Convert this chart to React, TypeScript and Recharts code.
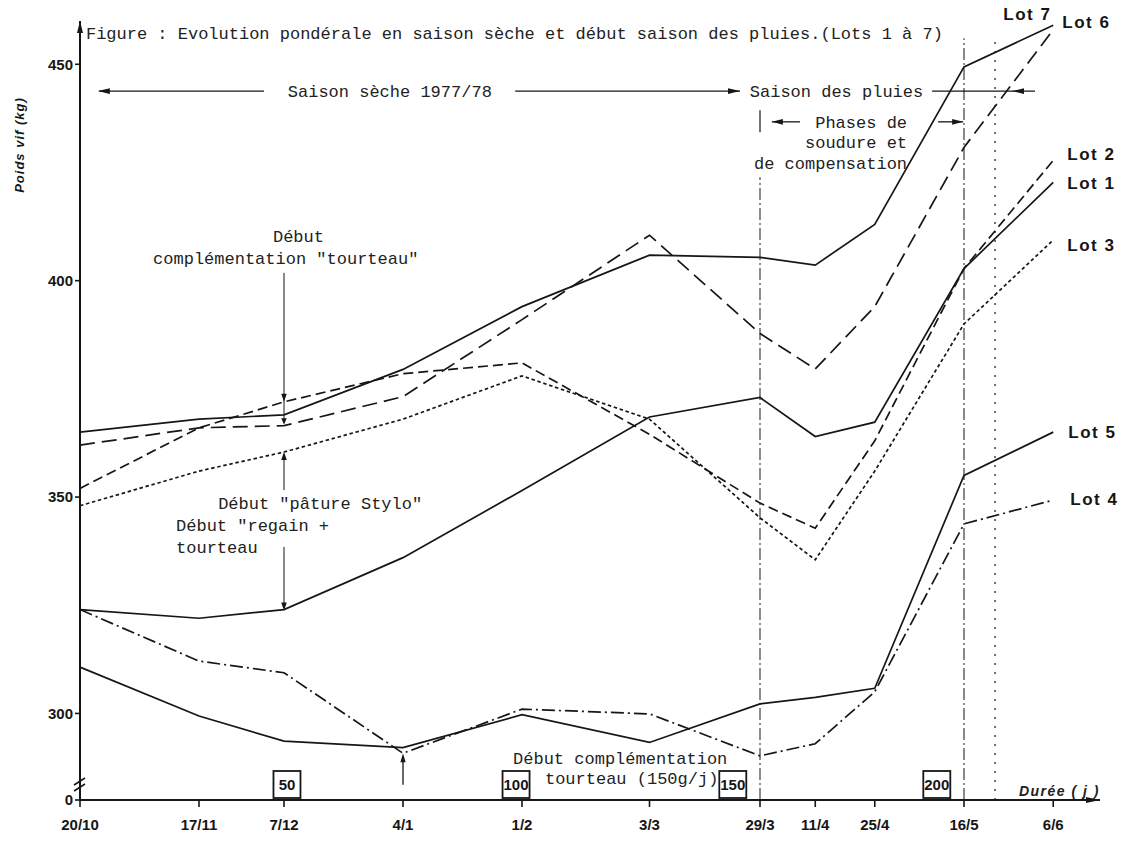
import React from 'react'
import { LineChart, Line, XAxis, YAxis, ReferenceLine, ReferenceDot } from 'recharts'

// dates of weighing, and their day count from 20/10/77
const dates = ['20/10', '17/11', '7/12', '4/1', '1/2', '3/3', '29/3', '11/4', '25/4', '16/5', '6/6']
const days = [0, 28, 48, 76, 104, 134, 160, 173, 187, 208, 229]

// live weight (kg)
const lot1 = [324, 322, 324, 336, 351.5, 368.5, 373, 364, 367.3, 402.8, 422.7]
const lot2 = [352, 366, 372, 378.5, 381, 364.5, 348.6, 342.8, 363, 402.8, 427.8]
const lot3 = [348, 356, 360.4, 368, 378, 368, 345.2, 335.5, 356, 390, 409.4]
const lot4 = [324, 312.1, 309.4, 290.8, 301, 299.9, 290.2, 293, 305, 343.8, 349.3]
const lot5 = [310.7, 299.4, 293.6, 292.1, 299.7, 293.3, 302.2, 303.7, 305.8, 355, 365]
const lot6 = [362, 366, 366.5, 373.2, 391, 410.5, 387.8, 379.6, 394, 430.8, 458]
const lot7 = [365, 368, 369, 379.5, 394, 405.9, 405.4, 403.6, 413, 449.4, 459]

const yTicks = [280, 300, 350, 400, 450]
const yTickLabels = ['0', '300', '350', '400', '450']

// boxed day counts drawn above the time axis
const markerDays = [48.7, 102.6, 153.6, 201.6]
const markerLabels = ['50', '100', '150', '200']

const data = days.map((day, i) => ({
  day,
  lot1: lot1[i],
  lot2: lot2[i],
  lot3: lot3[i],
  lot4: lot4[i],
  lot5: lot5[i],
  lot6: lot6[i],
  lot7: lot7[i],
}))

const INK = '#161616'
const MONO = "'Liberation Mono', 'DejaVu Sans Mono', monospace"
const SANS = "'Liberation Sans Narrow', 'Liberation Sans', Arial, sans-serif"

const series = [
  { key: 'lot7', name: 'Lot 7', values: lot7, dash: undefined, dx: -50, dy: -5 },
  { key: 'lot6', name: 'Lot 6', values: lot6, dash: '15 7', dx: 9, dy: -2 },
  { key: 'lot2', name: 'Lot 2', values: lot2, dash: '10 5', dx: 14, dy: 0 },
  { key: 'lot1', name: 'Lot 1', values: lot1, dash: undefined, dx: 14, dy: 7 },
  { key: 'lot3', name: 'Lot 3', values: lot3, dash: '3.5 2.7', dx: 14, dy: 11 },
  { key: 'lot5', name: 'Lot 5', values: lot5, dash: undefined, dx: 15, dy: 6 },
  { key: 'lot4', name: 'Lot 4', values: lot4, dash: '13 4 2 4', dx: 17, dy: 5 },
]

type Dir = 'up' | 'down' | 'left' | 'right'

const head = (dir: Dir, len = 11, w = 3.3) => (p: any) => {
  const { cx, cy } = p
  let d = ''
  if (dir === 'up') d = `M${cx},${cy} L${cx - w},${cy + len} L${cx + w},${cy + len} Z`
  if (dir === 'down') d = `M${cx},${cy} L${cx - w},${cy - len} L${cx + w},${cy - len} Z`
  if (dir === 'left') d = `M${cx},${cy} L${cx + len},${cy - w} L${cx + len},${cy + w} Z`
  if (dir === 'right') d = `M${cx},${cy} L${cx - len},${cy - w} L${cx - len},${cy + w} Z`
  return <path d={d} fill={INK} />
}

const arrow = (key: string, x: number, y: number, dir: Dir, len?: number, w?: number) => (
  <ReferenceDot key={key} x={x} y={y} r={0} shape={head(dir, len, w)} />
)

const seg = (key: string, x1: number, y1: number, x2: number, y2: number, dash?: string, width = 1.2) => (
  <ReferenceLine
    key={key}
    segment={[{ x: x1, y: y1 }, { x: x2, y: y2 }]}
    stroke={INK}
    strokeWidth={width}
    strokeDasharray={dash}
  />
)

interface NoteOpts {
  anchor?: 'start' | 'middle' | 'end'
  font?: string
  size?: number
  lh?: number
  weight?: string
  italic?: boolean
  spacing?: number
}

const note = (key: string, x: number, y: number, lines: string[], o: NoteOpts = {}) => (
  <ReferenceDot
    key={key}
    x={x}
    y={y}
    r={0}
    shape={(p: any) => (
      <text
        x={p.cx}
        y={p.cy}
        textAnchor={o.anchor ?? 'start'}
        fontFamily={o.font ?? MONO}
        fontSize={o.size ?? 17}
        fontWeight={o.weight ?? 'normal'}
        fontStyle={o.italic ? 'italic' : 'normal'}
        letterSpacing={o.spacing ?? 0}
        fill="#222"
      >
        {lines.map((l, i) => (
          <tspan key={i} x={p.cx} dy={i === 0 ? '0.35em' : o.lh ?? 20.5}>
            {l}
          </tspan>
        ))}
      </text>
    )}
  />
)

const dayBox = (key: string, x: number, label: string) => (
  <ReferenceDot
    key={key}
    x={x}
    y={280}
    r={0}
    shape={(p: any) => (
      <g>
        <rect x={p.cx - 13.5} y={p.cy - 29} width={27} height={27} fill="#fff" stroke={INK} strokeWidth={1.8} />
        <text
          x={p.cx}
          y={p.cy - 15.5}
          dy="0.35em"
          textAnchor="middle"
          fontFamily={SANS}
          fontWeight="bold"
          fontSize={15}
          fill={INK}
        >
          {label}
        </text>
      </g>
    )}
  />
)

const axisBreak = (p: any) => (
  <g stroke={INK} strokeWidth={1.6}>
    <line x1={p.cx - 6} y1={p.cy + 1} x2={p.cx + 5} y2={p.cy - 6} />
    <line x1={p.cx - 6} y1={p.cy + 7} x2={p.cx + 5} y2={p.cy} />
  </g>
)

const lotLabel = (s: (typeof series)[number]) => (
  <ReferenceDot
    key={`lab-${s.key}`}
    x={days[days.length - 1]}
    y={s.values[s.values.length - 1]}
    r={0}
    shape={(p: any) => (
      <text
        x={p.cx + s.dx}
        y={p.cy + s.dy}
        fontFamily={SANS}
        fontWeight="bold"
        fontSize={17}
        letterSpacing={1.5}
        fill={INK}
      >
        {s.name}
      </text>
    )}
  />
)

export default function App() {
  return (
    <div style={{ position: 'absolute', left: 0, top: 0, width: 1125, height: 846, background: '#fff' }}>
      <LineChart width={1125} height={846} data={data} margin={{ top: 21, right: 25, bottom: 6, left: 0 }}>
        <XAxis
          dataKey="day"
          type="number"
          domain={[0, 240]}
          ticks={days}
          interval={0}
          tickFormatter={(v: number) => dates[days.indexOf(v)] ?? ''}
          height={40}
          tickSize={7}
          tickMargin={12}
          axisLine={{ stroke: INK, strokeWidth: 2 }}
          tickLine={{ stroke: INK, strokeWidth: 1.6 }}
          tick={{ fontFamily: SANS, fontWeight: 'bold', fontSize: 15, fill: INK }}
        />
        <YAxis
          type="number"
          domain={[280, 460]}
          ticks={yTicks}
          interval={0}
          tickFormatter={(v: number) => yTickLabels[yTicks.indexOf(v)] ?? ''}
          width={80}
          tickSize={5}
          tickMargin={2}
          axisLine={{ stroke: INK, strokeWidth: 2 }}
          tickLine={{ stroke: INK, strokeWidth: 1.6 }}
          tick={{ fontFamily: SANS, fontWeight: 'bold', fontSize: 15, fill: INK }}
          label={{
            content: ({ viewBox }: any) => (
              <text
                transform={`translate(${viewBox.x + 24},${viewBox.y + 124}) rotate(-90)`}
                textAnchor="middle"
                fontFamily={SANS}
                fontWeight="bold"
                fontStyle="italic"
                fontSize={13}
                letterSpacing={1}
                fill={INK}
              >
                Poids vif (kg)
              </text>
            ),
          }}
        />

        {/* vertical markers: 29/3, 16/5 and the dotted one after it */}
        {seg('v293', 160, 280, 160, 423.9, '12 3 2 3', 1)}
        {seg('v293top', 160, 434.3, 160, 439.4, undefined, 1.2)}
        {seg('v165', 208, 280, 208, 456, '12 3 2 3', 1)}
        {seg('vdot', 215.3, 280, 215.3, 456, '2 7', 1.2)}

        {/* seasons */}
        {note('title', 1.4, 457.2, ['Figure : Evolution pondérale en saison sèche et début saison des pluies.(Lots 1 à 7)'])}
        {note('seche', 72.9, 443.8, ['Saison sèche 1977/78'], { anchor: 'middle' })}
        {note('pluies', 157.6, 443.8, ['Saison des pluies'])}
        {seg('s1', 4.5, 443.8, 43.3, 443.8, undefined, 1.3)}
        {arrow('s1a', 4.2, 443.8, 'left', 12, 2.8)}
        {seg('s2', 102.4, 443.8, 155.3, 443.8, undefined, 1.3)}
        {arrow('s2a', 155.3, 443.8, 'right', 12, 2.8)}
        {seg('s3', 200.5, 443.8, 224.7, 443.8, undefined, 1.3)}
        {arrow('s3a', 219.3, 443.8, 'left', 12, 2.8)}

        {/* phases de soudure */}
        {note('phases', 194.6, 436.7, ['Phases de', 'soudure et', 'de compensation'], { anchor: 'end' })}
        {seg('p1', 162.8, 436.7, 169.4, 436.7, undefined, 1.3)}
        {arrow('p1a', 162.8, 436.7, 'left', 11, 2.8)}
        {seg('p2', 201.9, 436.7, 207.8, 436.7, undefined, 1.3)}
        {arrow('p2a', 207.8, 436.7, 'right', 11, 2.8)}

        {/* début complémentation tourteau (lots 2 and 6) */}
        {note('tourteau1', 45.4, 410.3, ['Début'])}
        {note('tourteau2', 17.2, 405.2, ['complémentation "tourteau"'])}
        {seg('t1', 48, 401.8, 48, 367, undefined, 1)}
        {arrow('t1a', 48, 372, 'down', 8, 2.8)}
        {arrow('t1b', 48, 366.8, 'down', 6, 2.8)}

        {/* pâture Stylo / regain + tourteau */}
        {note('stylo', 32.5, 348.6, ['Début "pâture Stylo"'])}
        {note('regain', 22.6, 343.5, ['Début "regain +', 'tourteau'], { lh: 22 })}
        {seg('r1', 48, 351.6, 48, 360, undefined, 1)}
        {arrow('r1a', 48, 360.4, 'up', 8, 2.8)}
        {seg('r2', 48, 324.5, 48, 338.5, undefined, 1)}
        {arrow('r2a', 48, 323.8, 'down', 8, 2.8)}

        {/* bottom note, lot 4 */}
        {note('bas', 101.9, 289.7, ['Début complémentation'])}
        {note('bas2', 109.4, 285.1, ['tourteau (150g/j)'])}
        {seg('b1', 76, 283.5, 76, 289, undefined, 1.3)}
        {arrow('b1a', 76, 290.8, 'up', 9, 2.6)}

        {markerDays.map((d, i) => dayBox(`box${i}`, d, markerLabels[i]))}

        {series.map((s) => (
          <Line
            key={s.key}
            dataKey={s.key}
            type="linear"
            stroke={INK}
            strokeWidth={1.7}
            strokeDasharray={s.dash}
            dot={false}
            activeDot={false}
            isAnimationActive={false}
          />
        ))}
        {series.map((s) => lotLabel(s))}

        {/* axis arrows, break and title */}
        {arrow('yarrow', 0, 460, 'up', 12, 3)}
        {arrow('xarrow', 240, 280, 'right', 14, 3)}
        <ReferenceDot x={0} y={283.7} r={0} shape={axisBreak} />
        {note('duree', 240, 282.1, ['Durée ( j )'], {
          anchor: 'end',
          font: "'Liberation Sans', Arial, sans-serif",
          size: 14,
          weight: 'bold',
          italic: true,
          spacing: 1.5,
        })}
      </LineChart>
    </div>
  )
}
